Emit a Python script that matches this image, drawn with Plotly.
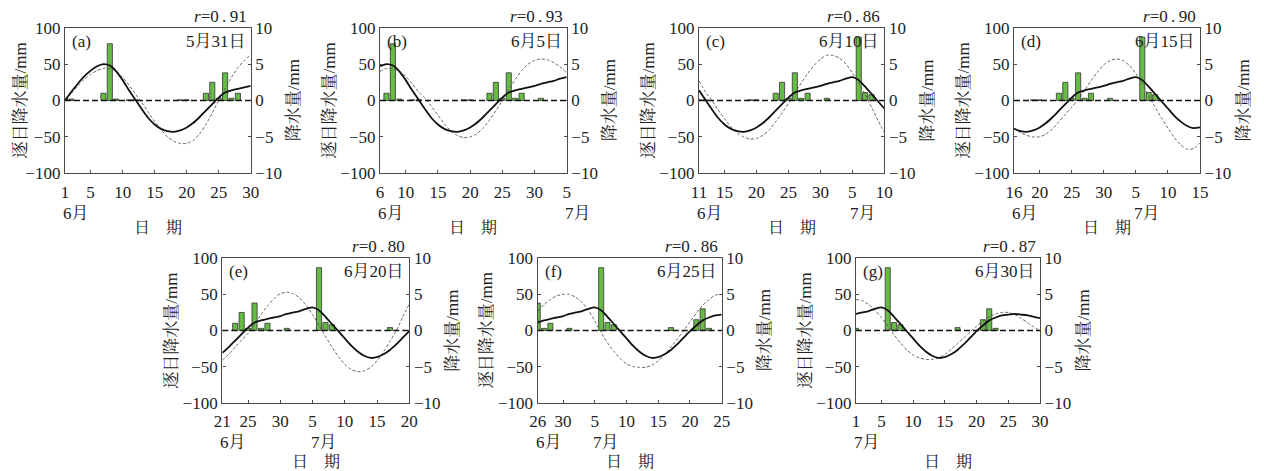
import plotly.graph_objects as go

# ---------------- data ----------------
# day index: June d -> d, July d -> 30 + d
rain_day = [1, 2, 7, 8, 9, 11, 12, 19, 20, 23, 24, 25, 26, 27, 28, 31, 36, 37, 38, 47, 51, 52, 53]
rain_mm = [3, 2, 10, 78, 2, 1, 1, 1, 1, 10, 25, 3, 38, 3, 10, 3, 87, 11, 8, 4, 15, 30, 3]

# solid curve (filtered daily precipitation), days 1..60
solid_mm = [0, 12, 23, 33, 41, 47, 50, 48, 40, 28,
            14, 1, -12, -24, -33, -39, -42, -43, -41, -37,
            -31, -23, -14, -5, 4, 11, 14, 16, 18, 20,
            23, 25, 27, 30, 32, 28, 19, 9, -1, -11,
            -21, -29, -35, -38, -37, -33, -27, -19, -10, -1,
            7, 14, 18, 21, 22, 23, 22, 21, 19, 17]

# dashed curves (fitted), 30 days from each panel's start
dash_a = [0, 10, 20, 29, 36, 41, 44, 44, 40, 32, 21, 9, -3, -16, -29,
          -40, -50, -56, -59, -59, -55, -46, -33, -17, 0, 16, 32, 45, 55, 63]
dash_b = [40, 44, 44, 40, 33, 23, 12, 3, -8, -20, -32, -42, -48, -51, -50,
          -46, -38, -27, -14, 0, 15, 29, 41, 50, 55, 57, 56, 52, 46, 38]
dash_c = [27, 12, 0, -13, -25, -36, -45, -50, -53, -52, -48, -40, -29, -17, -4,
          10, 24, 37, 48, 57, 62, 62, 58, 50, 38, 24, 8, -9, -27, -44]
dash_d = [-38, -44, -48, -50, -50, -46, -39, -29, -19, -9, 1, 14, 27, 39, 49,
          55, 57, 55, 48, 37, 23, 6, -9, -24, -38, -51, -61, -67, -66, -58]
dash_e = [-41, -33, -23, -13, -4, 9, 22, 34, 44, 51, 53, 51, 45, 35, 22,
          7, -8, -23, -36, -47, -54, -57, -56, -51, -42, -30, -15, 0, 19, 37]
dash_f = [27, 36, 43, 48, 50, 50, 46, 39, 28, 13, -3, -17, -29, -39, -46,
          -50, -51, -51, -48, -42, -33, -23, -12, 0, 12, 24, 35, 43, 49, 50]
dash_g = [43, 41, 36, 28, 18, 6, -6, -17, -27, -34, -38, -40, -40, -38, -33,
          -26, -18, -10, -2, 6, 13, 19, 23, 25, 25, 22, 17, 11, 5, 0]

panel_labels = ["(a)", "(b)", "(c)", "(d)", "(e)", "(f)", "(g)"]
panel_dates = ["5月31日", "6月5日", "6月10日", "6月15日", "6月20日", "6月25日", "6月30日"]
panel_r = ["0.91", "0.93", "0.86", "0.90", "0.80", "0.86", "0.87"]
panel_start = [1, 6, 11, 16, 21, 26, 31]
panel_dash = [dash_a, dash_b, dash_c, dash_d, dash_e, dash_f, dash_g]

left_ticks = [-100, -50, 0, 50, 100]
right_ticks = [-10, -5, 0, 5, 10]

# ---------------- layout geometry (pixels, page coordinates) ----------------
W, H = 1264, 471
OFF = 8  # page body margin offset
px_x = [(65, 250.7), (380, 566.7), (699, 884.3), (1014, 1200),
        (222.3, 409.3), (537.7, 721.7), (856, 1040)]
px_y = [(27.7, 173.3)] * 4 + [(258.3, 402.7)] * 3

FONT = "Liberation Serif, 'Noto Serif CJK SC', 'Noto Sans CJK SC', serif"
TXT = "#222222"
FRAME = "#4a4a4a"
GREEN = "#66bb44"

fig = go.Figure()
layout = dict(width=W, height=H, autosize=False,
              margin=dict(l=0, r=0, t=0, b=0, pad=0, autoexpand=False),
              paper_bgcolor="white", plot_bgcolor="white", showlegend=False,
              font=dict(family=FONT, size=17, color=TXT))
annotations = []
shapes = []

for k in range(7):
    i = k + 1
    s = panel_start[k]
    days = list(range(s, s + 30))
    x0p, x1p = (px_x[k][0] - OFF) / W, (px_x[k][1] - OFF) / W
    ytp, ybp = px_y[k][0] - OFF, px_y[k][1] - OFF
    y0p, y1p = 1 - ybp / H, 1 - ytp / H
    xname = "x" if i == 1 else f"x{i}"
    yname = "y" if i == 1 else f"y{i}"
    yrname = f"y{i + 7}"

    bx = [d for d in rain_day if s <= d <= s + 29]
    by = [v for d, v in zip(rain_day, rain_mm) if s <= d <= s + 29]
    fig.add_trace(go.Bar(x=bx, y=by, xaxis=xname, yaxis=yname, width=0.8,
                         marker=dict(color=GREEN, line=dict(color="#333333", width=0.8)),
                         hoverinfo="skip"))
    fig.add_trace(go.Scatter(x=days, y=panel_dash[k], xaxis=xname, yaxis=yname,
                             mode="lines", line=dict(color="#555555", width=0.9, dash="3px,2px",
                                                     shape="spline", smoothing=0.6),
                             hoverinfo="skip"))
    fig.add_trace(go.Scatter(x=days, y=solid_mm[s - 1:s + 29], xaxis=xname, yaxis=yname,
                             mode="lines", line=dict(color="#111111", width=1.8,
                                                     shape="spline", smoothing=0.6),
                             hoverinfo="skip"))
    fig.add_trace(go.Scatter(x=[s], y=[0], xaxis=xname, yaxis=yrname, mode="markers",
                             marker=dict(opacity=0), hoverinfo="skip"))

    tickvals = [s] + [d for d in range(s + 1, s + 30) if d % 5 == 0]
    ticktext = [str(d if d <= 30 else d - 30) for d in tickvals]
    axcommon = dict(ticks="inside", ticklen=3, tickwidth=1, tickcolor=FRAME,
                    showline=True, linecolor=FRAME, linewidth=1.4,
                    showgrid=False, zeroline=False, automargin=False,
                    tickfont=dict(family=FONT, size=17, color=TXT))
    layout["xaxis" if i == 1 else f"xaxis{i}"] = dict(
        domain=[x0p, x1p], range=[s, s + 29], tickvals=tickvals, ticktext=ticktext,
        anchor=yname, mirror=True, ticklabelstandoff=3, **axcommon)
    layout["yaxis" if i == 1 else f"yaxis{i}"] = dict(
        domain=[y0p, y1p], range=[-100, 100], tickvals=left_ticks,
        anchor=xname, **axcommon)
    layout[f"yaxis{i + 7}"] = dict(
        overlaying=yname, side="right", range=[-10, 10], tickvals=right_ticks,
        anchor=xname, **axcommon)

    shapes.append(dict(type="line", xref=f"{xname} domain", yref=yname, x0=0, x1=1,
                       y0=0, y1=0, layer="above",
                       line=dict(color="#111111", width=1.3, dash="6px,3px")))

    base = dict(xref="paper", yref="paper", showarrow=False,
                font=dict(family=FONT, size=17, color=TXT))
    annotations.append(dict(base, text=panel_labels[k], x=x0p, y=y1p, xshift=5, yshift=-2,
                            xanchor="left", yanchor="top"))
    annotations.append(dict(base, text=panel_dates[k], x=x1p, y=y1p, xshift=-3, yshift=-2,
                            xanchor="right", yanchor="top"))
    annotations.append(dict(base, text="<i>r</i>=" + panel_r[k].replace(".", "\u2009.\u2009"),
                            x=x1p, y=y1p, xshift=-2, yshift=0,
                            xanchor="right", yanchor="bottom"))
    annotations.append(dict(base, text="逐日降水量/mm", x=x0p, y=(y0p + y1p) / 2,
                            xshift=-45 if k == 0 else -51,
                            textangle=-90, xanchor="center", yanchor="middle",
                            borderpad=0))
    annotations.append(dict(base, text="降水量/mm", x=x1p, y=(y0p + y1p) / 2, xshift=43,
                            textangle=-90, xanchor="center", yanchor="middle"))
    months = []
    if s <= 30:
        months.append((s, "6月"))
        if s + 29 >= 35:
            months.append((35, "7月"))
    else:
        months.append((s, "7月"))
    for mx, mt in months:
        annotations.append(dict(text=mt, xref=xname, yref="paper", x=mx, y=y0p,
                                showarrow=False, xanchor="left", yanchor="middle",
                                xshift=-4, yshift=-40,
                                font=dict(family=FONT, size=17, color=TXT)))
    annotations.append(dict(base, text="日　期", x=(x0p + x1p) / 2, y=y0p,
                            yshift=-54 if k < 4 else -59, xanchor="center", yanchor="middle",
                            font=dict(family=FONT, size=16, color=TXT)))

layout["annotations"] = annotations
layout["shapes"] = shapes
fig.update_layout(**layout)
fig.write_html("out.html")
